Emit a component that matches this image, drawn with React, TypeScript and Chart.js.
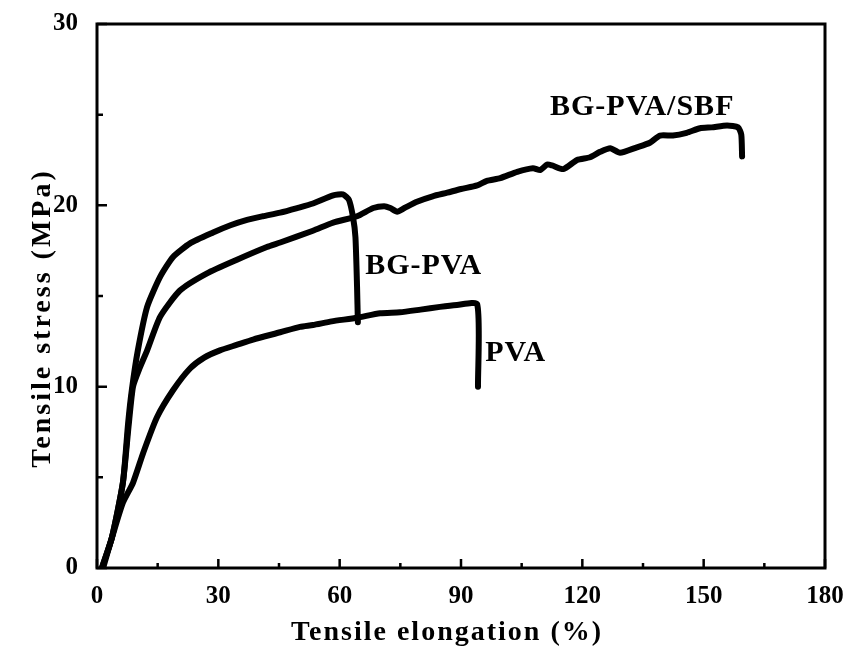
import React, { useEffect, useRef } from "react";
import { Chart, registerables } from "chart.js";

Chart.register(...registerables);

// Tensile elongation (%) / tensile stress (MPa) readings for each film
const pvaX = [1.5, 4, 6.4, 8.9, 11.5, 14.8, 18.8, 23, 26.5, 30.4, 34.5, 38.6, 45.3, 50.2, 53.4, 58, 64.3, 70, 74.9, 80, 84.8, 89, 94, 94.2];
const pvaY = [0, 1.9, 3.6, 4.7, 6.4, 8.3, 9.8, 11.0, 11.6, 12.0, 12.3, 12.6, 13.0, 13.3, 13.4, 13.6, 13.8, 14.05, 14.1, 14.25, 14.4, 14.5, 14.55, 10.0];

const bgPvaX = [1.2, 3.7, 6.4, 7.7, 8.6, 10.1, 12.4, 15.6, 18.8, 23, 28.7, 33, 37.1, 41, 45.3, 49.5, 53.4, 58.4, 60.8, 62.3, 63.3, 63.9, 64.3, 64.5];
const bgPvaY = [0, 1.7, 4.7, 8.0, 9.8, 12.0, 14.4, 16.05, 17.15, 17.9, 18.5, 18.9, 19.2, 19.4, 19.6, 19.85, 20.1, 20.55, 20.6, 20.3, 19.35, 18.25, 15.5, 13.55];

const bgPvaSbfX = [1.2, 3.7, 6.4, 7.8, 8.9, 10.5, 12.4, 15.6, 20.5, 27.2, 34.6, 42, 45.3, 53.4, 58.4, 64.3, 68.3, 71, 72.5, 74.2, 76, 79.1, 83, 86.6, 90, 94, 96.4, 99.7, 103.9, 107.8, 109.6, 111.3, 112.5, 115.3, 118.7, 121.9, 124.4, 126.9, 129.3, 133.5, 136.7, 139.2, 142.4, 145.8, 149.1, 152, 155.8, 158.5, 159.3, 159.5];
const bgPvaSbfY = [0, 1.7, 4.7, 7.8, 10.0, 11.0, 12.0, 13.85, 15.3, 16.25, 17.0, 17.7, 17.95, 18.6, 19.05, 19.4, 19.85, 19.95, 19.85, 19.65, 19.85, 20.2, 20.5, 20.7, 20.9, 21.1, 21.35, 21.5, 21.85, 22.05, 21.95, 22.25, 22.2, 22.0, 22.5, 22.65, 22.95, 23.15, 22.9, 23.2, 23.45, 23.85, 23.85, 24.0, 24.25, 24.3, 24.4, 24.3, 23.9, 22.7];

const xMajorTicks = [0, 30, 60, 90, 120, 150, 180];
const xMinorTicks = [15, 45, 75, 105, 135, 165];
const yMajorTicks = [0, 10, 20, 30];
const yMinorTicks = [5, 15, 25];

const seriesLabels = ["PVA", "BG-PVA", "BG-PVA/SBF"];
// label text, anchor elongation, anchor stress
const curveNotes: [string, number, number][] = [
  ["BG-PVA/SBF", 112.0, 25.4],
  ["BG-PVA", 66.3, 16.65],
  ["PVA", 96.0, 11.85],
];

const xTitle = "Tensile elongation (%)";
const yTitle = "Tensile stress (MPa)";

const FONT = "'Liberation Serif', 'Times New Roman', serif";

function toPoints(xs: number[], ys: number[]) {
  return xs.map((x, i) => ({ x, y: ys[i] }));
}

const framePlugin = {
  id: "frameAndNotes",
  afterDraw(chart: any) {
    const { ctx, chartArea, scales } = chart;
    const { left, right, top, bottom } = chartArea;
    const xs = scales.x;
    const ys = scales.y;
    ctx.save();
    ctx.strokeStyle = "#000";
    ctx.lineWidth = 3;
    ctx.strokeRect(left, top, right - left, bottom - top);

    ctx.lineWidth = 2.5;
    ctx.beginPath();
    xMajorTicks.forEach((v) => {
      const px = xs.getPixelForValue(v);
      ctx.moveTo(px, bottom);
      ctx.lineTo(px, bottom - 9);
    });
    xMinorTicks.forEach((v) => {
      const px = xs.getPixelForValue(v);
      ctx.moveTo(px, bottom);
      ctx.lineTo(px, bottom - 5);
    });
    yMajorTicks.forEach((v) => {
      const py = ys.getPixelForValue(v);
      ctx.moveTo(left, py);
      ctx.lineTo(left + 10, py);
    });
    yMinorTicks.forEach((v) => {
      const py = ys.getPixelForValue(v);
      ctx.moveTo(left, py);
      ctx.lineTo(left + 6, py);
    });
    ctx.stroke();

    ctx.fillStyle = "#000";
    ctx.textBaseline = "middle";

    // curve annotations
    ctx.font = `bold 30px ${FONT}`;
    ctx.textAlign = "left";
    (ctx as any).letterSpacing = "1px";
    curveNotes.forEach(([t, vx, vy]) => {
      ctx.fillText(t, xs.getPixelForValue(vx), ys.getPixelForValue(vy));
    });

    // axis titles
    ctx.font = `bold 28px ${FONT}`;
    ctx.textAlign = "center";
    (ctx as any).letterSpacing = "2px";
    ctx.fillText(xTitle, 447, 633);

    ctx.save();
    (ctx as any).letterSpacing = "3px";
    ctx.translate(43, 318);
    ctx.rotate(-Math.PI / 2);
    ctx.fillText(yTitle, 0, 0);
    ctx.restore();

    ctx.restore();
  },
};

export default function App() {
  const canvasRef = useRef<HTMLCanvasElement | null>(null);

  useEffect(() => {
    const canvas = canvasRef.current;
    if (!canvas) return;
    const lineStyle = {
      showLine: true,
      borderColor: "#000",
      backgroundColor: "#000",
      borderWidth: 6,
      pointRadius: 0,
      tension: 0.2,
      borderJoinStyle: "round" as const,
      borderCapStyle: "round" as const,
      fill: false,
    };
    const tickFont = { family: FONT, size: 25, weight: "bold" as const };
    const chart = new Chart(canvas, {
      type: "scatter",
      data: {
        datasets: [
          { label: seriesLabels[0], data: toPoints(pvaX, pvaY), ...lineStyle },
          { label: seriesLabels[1], data: toPoints(bgPvaX, bgPvaY), ...lineStyle },
          { label: seriesLabels[2], data: toPoints(bgPvaSbfX, bgPvaSbfY), ...lineStyle },
        ],
      },
      options: {
        responsive: false,
        animation: false,
        devicePixelRatio: 1,
        layout: { padding: { top: 24, right: 23, left: 0, bottom: 0 } },
        plugins: {
          legend: { display: false },
          tooltip: { enabled: false },
        },
        scales: {
          x: {
            type: "linear",
            min: 0,
            max: 180,
            grid: { display: false, drawTicks: false },
            border: { display: false },
            ticks: {
              stepSize: 30,
              padding: 14,
              color: "#000",
              font: tickFont,
            },
            afterFit(scale: any) {
              scale.height = 85;
              scale.paddingLeft = 0;
              scale.paddingRight = 0;
            },
          },
          y: {
            type: "linear",
            min: 0,
            max: 30,
            grid: { display: false, drawTicks: false },
            border: { display: false },
            ticks: {
              stepSize: 10,
              padding: 19,
              color: "#000",
              font: tickFont,
            },
            afterFit(scale: any) {
              scale.width = 97;
              scale.paddingTop = 0;
              scale.paddingBottom = 0;
            },
          },
        },
      },
      plugins: [framePlugin],
    });
    return () => chart.destroy();
  }, []);

  return (
    <div style={{ position: "absolute", left: 0, top: 0, width: 848, height: 653, background: "#fff" }}>
      <canvas ref={canvasRef} width={848} height={653} style={{ display: "block" }} />
    </div>
  );
}
